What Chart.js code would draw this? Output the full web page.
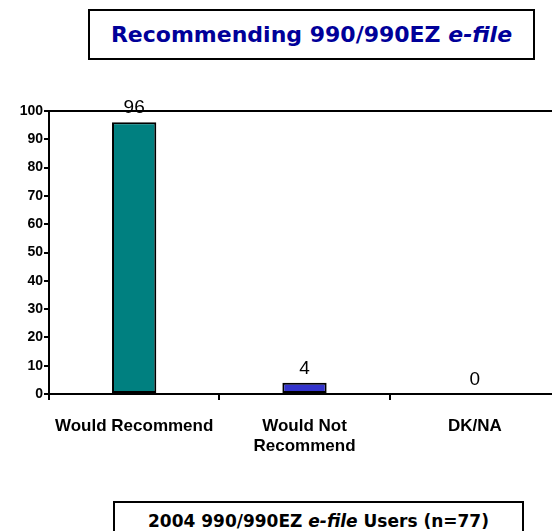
<!DOCTYPE html>
<html>
<head>
<meta charset="utf-8">
<script src="https://cdn.jsdelivr.net/npm/chart.js@4/dist/chart.umd.min.js"></script>
<style>
  html, body { margin: 0; padding: 0; overflow: hidden; background: #fff; width: 552px; height: 531px; }
  #wrap { position: relative; width: 552px; height: 531px; }
  #chartcanvas { position: absolute; left: 0; top: 0; }
  .box { position: absolute; box-sizing: border-box; border: 2px solid #000; background: #fff; text-align: center; font-family: "DejaVu Sans", Verdana, sans-serif; font-weight: bold; white-space: nowrap; }
  #titlebox { left: 88px; top: 9px; width: 447px; height: 51px; line-height: 47px; font-size: 22px; color: #000099; }
  #footbox { left: 113px; top: 501px; width: 411px; height: 40px; padding-top: 8px; font-size: 17px; line-height: 20px; color: #000; }
</style>
</head>
<body>
<div id="wrap">
  <canvas id="chartcanvas" width="560" height="531"></canvas>
  <div class="box" id="titlebox">Recommending 990/990EZ <i>e-file</i></div>
  <div class="box" id="footbox">2004 990/990EZ <i>e-file</i> Users (n=77)</div>
</div>
<script>
var categories = ["Would Recommend", ["Would Not", "Recommend"], "DK/NA"];
var percents = [96, 4, 0];
var barColors = ["#008080", "#3333CC", "#808080"];
var yTicks = [0, 10, 20, 30, 40, 50, 60, 70, 80, 90, 100];

//labels above the bars + line along the top of the plot
var extras = {
  id: "extras",
  afterDatasetsDraw: function(chart) {
    var ctx = chart.ctx;
    var area = chart.chartArea;
    ctx.save();
    ctx.strokeStyle = "#000";
    ctx.lineWidth = 2;
    ctx.beginPath();
    ctx.moveTo(area.left, area.top);
    ctx.lineTo(area.right, area.top);
    ctx.stroke();

    ctx.fillStyle = "#000";
    ctx.font = "19px Arial, 'Liberation Sans', sans-serif";
    ctx.textAlign = "center";
    ctx.textBaseline = "alphabetic";
    chart.getDatasetMeta(0).data.forEach(function(bar, i) {
      ctx.fillText(String(percents[i]), bar.x, bar.y - 9);
    });
    ctx.restore();
  }
};

var ctx = document.getElementById("chartcanvas");
var chart = new Chart(ctx, {
  type: "bar",
  data: {
    labels: categories,
    datasets: [{
      data: percents,
      backgroundColor: barColors,
      borderColor: "#000",
      borderWidth: 2,
      borderSkipped: false,
      categoryPercentage: 1,
      barPercentage: 0.26
    }]
  },
  options: {
    responsive: false,
    animation: false,
    layout: { padding: { top: 111, left: 0, right: 0, bottom: 0 } },
    plugins: {
      legend: { display: false },
      tooltip: { enabled: false }
    },
    scales: {
      x: {
        afterFit: function(scale) { scale.height = 137; },
        grid: { offset: true, drawOnChartArea: false, drawTicks: true, tickLength: 6, color: "#000", lineWidth: 2 },
        border: { color: "#000", width: 2 },
        ticks: {
          color: "#000",
          padding: 16,
          maxRotation: 0,
          autoSkip: false,
          font: { family: "Arial, 'Liberation Sans', sans-serif", size: 17, weight: "bold", lineHeight: 1.2 }
        }
      },
      y: {
        min: 0,
        max: 100,
        afterFit: function(scale) { scale.width = 49; },
        afterBuildTicks: function(scale) {
          scale.ticks = yTicks.map(function(v) { return { value: v }; });
        },
        grid: { drawOnChartArea: false, drawTicks: true, tickLength: 5, color: "#000", lineWidth: 2 },
        border: { color: "#000", width: 2 },
        ticks: {
          color: "#000",
          padding: 1,
          font: { family: "Arial, 'Liberation Sans', sans-serif", size: 14, weight: "bold" }
        }
      }
    }
  },
  plugins: [extras]
});
</script>
</body>
</html>
